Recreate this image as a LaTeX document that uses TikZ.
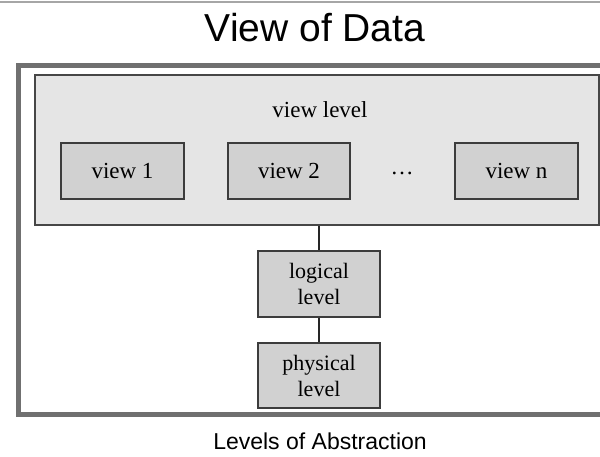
\documentclass[tikz,border=0pt]{standalone}
\usepackage{fontspec}
\setmainfont{Liberation Serif}
\newfontfamily\sansf{Liberation Sans}
\definecolor{framegray}{RGB}{112,112,112}
\definecolor{levelfill}{RGB}{229,229,229}
\definecolor{boxfill}{RGB}{209,209,209}
\definecolor{boxline}{RGB}{60,60,60}
\begin{document}
\begin{tikzpicture}[x=1pt,y=-1pt,
  levelbox/.style={draw=boxline, line width=1.3pt, fill=boxfill, minimum width=122pt, inner sep=0pt, align=center, font=\fontsize{22}{26}\selectfont},
  conn/.style={draw=black!85, line width=1.3pt}]
\useasboundingbox (0,0) rectangle (600,457);
\clip (0,0) rectangle (600,457);
\fill[white] (0,0) rectangle (600,457);
\draw[gray!70, line width=1.2pt] (0,2) -- (600,2);
\node[font=\sansf\fontsize{39}{44}\selectfont] (title) at (315,28) {View of Data};
\node[draw=framegray, line width=5pt, minimum width=585pt, minimum height=349pt, inner sep=0pt] (frame) at (310.5,240) {};
\node[draw=gray!55!black, line width=1.1pt, fill=levelfill, minimum width=564pt, minimum height=150pt, inner sep=0pt] (vl) at (317,150) {};
\node[font=\fontsize{23}{26}\selectfont] (vltext) at (320,110) {view level};
\node[levelbox, minimum width=123pt, minimum height=56pt, font=\fontsize{23}{26}\selectfont] (v1) at (122.5,171) {view 1};
\node[levelbox, minimum height=56pt, font=\fontsize{23}{26}\selectfont] (v2) at (289,171) {view 2};
\node[font=\fontsize{23}{26}\selectfont, inner sep=0pt] (dots) at (402,173) {\ldots};
\node[levelbox, minimum width=123pt, minimum height=56pt, font=\fontsize{23}{26}\selectfont] (vn) at (516.5,171) {view n};
\node[levelbox, minimum height=66pt] (logical) at (319,284) {logical\\level};
\node[levelbox, minimum height=65pt] (physical) at (319,375.5) {physical\\level};
\draw[conn] (logical.north) -- (logical.north |- vl.south);
\draw[conn] (logical.south) -- (physical.north);
\node[font=\sansf\fontsize{23}{26}\selectfont] (caption) at (320,441) {Levels of Abstraction};
\end{tikzpicture}
\end{document}
